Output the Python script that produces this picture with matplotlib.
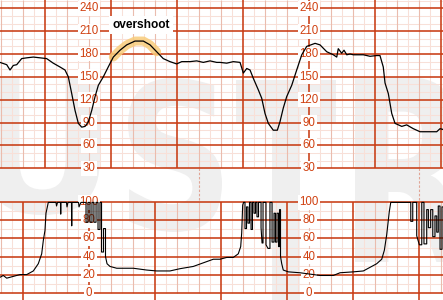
import matplotlib
matplotlib.use("Agg")
import matplotlib.pyplot as plt
import numpy as np
from matplotlib.textpath import TextPath
from matplotlib.patches import PathPatch
from matplotlib.font_manager import FontProperties
from matplotlib.transforms import Affine2D, IdentityTransform

# ---------------- data (time in seconds) ----------------
fhr_t = [-40.9, -34.8, -31.8, -28.8, -25.7, -21.2, -16.6, -10.6, -4.5, 1.5, 7.5, 13.6, 18.2,
         21.2, 24.3, 27.3, 30.3, 33.4, 36.4, 39.4, 42.5, 45.5, 48.5, 53.0, 57.5, 62.1, 68.2,
         74.3, 81.8, 89.4, 95.5, 101.5, 107.5, 113.6, 119.7, 124.3, 131.8, 137.9, 143.9, 150.0,
         156.1, 159.1, 165.2, 171.2, 177.3, 180.3, 183.4, 186.4, 189.4, 193.9, 197.0, 200.0,
         203.0, 207.5, 211.2, 213.6, 216.6, 219.7, 224.3, 228.8, 233.4, 237.9, 245.5, 250.0,
         256.1, 262.1, 265.2, 266.6, 269.7, 271.8, 274.3, 277.3, 280.3, 289.4, 295.5, 301.5,
         304.5, 307.5, 309.1, 312.1, 315.2, 318.2, 324.3, 328.8, 334.8, 340.9, 350.0, 356.1,
         359.1, 361.8]
fhr_bpm = [169, 166, 159, 165, 166, 174, 175, 176, 175, 174, 168, 163, 159,
           150, 128, 106, 89, 84, 85, 91, 106, 124, 139, 150, 163, 176, 185,
           192, 197, 197, 192, 183, 174, 170, 167, 170, 170, 171, 169, 171,
           169, 169, 168, 170, 169, 155, 161, 159, 148, 133, 122, 102,
           89, 80, 80, 91, 109, 124, 139, 159, 179, 190, 194, 192,
           183, 179, 176, 187, 181, 185, 179, 180, 179, 179, 177, 178,
           178, 163, 142, 128, 102, 89, 85, 87, 82, 78, 78, 78,
           82, 81]

ua_t = [-40.9, -37.9, -34.8, -28.8, -22.7, -16.6, -10.6, -6.1, -3.0, -1.5, 0.0, 0.9, 3.0,
        10.0, 10.5, 11.4, 14.1, 14.3, 14.5, 19.5, 20.0, 20.9, 24.1, 24.3, 24.5, 30.5, 30.9, 32.7,
        37.3, 37.3, 39.1, 39.1, 40.9, 40.9, 42.7, 42.7, 44.5, 44.5, 46.4, 46.4, 48.2, 48.2,
        50.0, 50.0, 51.4, 51.4, 53.2, 53.2, 55.0, 55.0, 56.4,
        59.1, 65.2, 74.3, 80.3, 92.5, 101.5, 113.6, 122.7, 134.8, 143.9, 153.0, 159.1, 165.2,
        171.2, 175.7, 177.9, 178.8, 179.7,
        180.5, 181.8, 181.8, 183.2, 183.2, 184.5, 184.5, 185.9, 185.9, 187.3, 187.3, 188.6,
        188.6, 190.0, 190.0, 191.4, 191.4, 192.7, 192.7, 194.1, 194.1, 196.4, 196.4, 197.3,
        198.2, 198.2, 200.9, 200.9, 202.7, 204.5, 204.5, 206.4, 206.4, 208.2, 208.2, 209.5,
        209.5, 210.9, 210.9, 212.3, 212.3, 213.2, 213.2, 214.1, 214.1, 215.2, 216.6, 221.2,
        231.8, 237.9, 250.0, 262.1, 268.2, 280.3, 289.4, 295.5, 301.5, 306.1, 308.5, 310.6,
        313.0, 314.3, 331.8,
        332.5, 332.5, 334.3, 334.3, 337.9, 337.9, 340.3, 342.5, 342.5, 344.5, 344.5, 347.0,
        347.0, 348.5, 348.5, 350.6, 350.6, 352.5, 352.5, 354.5, 354.5, 356.1, 356.1, 357.5,
        357.5, 359.1, 359.1, 360.9, 360.9, 362.0]
ua_val = [17, 19, 16, 18, 20, 20, 24, 32, 43, 58, 69, 88, 100,
          100, 96, 100, 100, 87, 100, 100, 95, 100, 100, 74, 100, 100, 95, 100,
          100, 78, 78, 100, 100, 78, 78, 100, 100, 78, 78, 100, 100, 70,
          70, 100, 100, 45, 45, 71, 71, 40, 32,
          29, 27, 27, 27, 25, 24, 24, 26.5, 29, 33, 37, 37, 39,
          39, 43, 51, 66, 97,
          100, 100, 71, 71, 95, 95, 77, 77, 100, 100, 70, 70,
          100, 100, 88, 88, 100, 100, 84, 84, 100, 100, 72, 55,
          55, 100, 100, 53, 49, 49, 100, 100, 56, 56, 88, 88,
          56, 56, 88, 88, 51, 51, 92, 92, 40, 32, 25, 23,
          22, 21, 19, 19, 22, 23, 24, 28, 32, 37, 47, 64,
          90, 100, 100,
          100, 79, 79, 100, 100, 63, 53, 53, 100, 100, 54, 54,
          92, 92, 72, 72, 92, 92, 62, 62, 85, 85, 67, 67,
          96, 96, 48, 48, 95, 95]

fhr_labels = [30, 60, 90, 120, 150, 180, 210, 240]
ua_labels = [0, 20, 40, 60, 80, 100]
label_times = [40, 240]
marker_times = [140, 340]
highlight_range = (61, 107)
annotation_text = "overshoot"

# ---------------- style ----------------
MAJOR = "#c83c14"
MEDIUM = "#eabcae"
LIGHT = "#f8e0d8"
LABEL = "#d04010"
XLIM = (-40.9, 361.8)

fig = plt.figure(figsize=(4.43, 3.0), dpi=100)
fig.patch.set_facecolor("white")

# watermark letters (very faint, behind grid)
wm_font = FontProperties(family="DejaVu Sans", weight="bold")
wm_boxes = {"U": (-15, 78, 100, 215), "S": (128, 78, 222, 232),
            "T": (236, 80, 336, 300), "R": (355, 77, 472, 262)}
for ch, (x0, y0, x1, y1) in wm_boxes.items():
    tp = TextPath((0, 0), ch, size=100, prop=wm_font)
    bb = tp.get_extents()
    tr = (Affine2D().translate(-bb.x0, -bb.y0)
          .scale((x1 - x0) / bb.width, (y1 - y0) / bb.height)
          .translate(x0, 300 - y1))
    patch = PathPatch(tr.transform_path(tp), transform=IdentityTransform(),
                      facecolor="#efefef", edgecolor="none", zorder=-5)
    fig.patches.append(patch)

ax_top = fig.add_axes([0, (300 - 168.3) / 300, 1, 168.3 / 300])
ax_bot = fig.add_axes([0, 0, 1, (300 - 202.4) / 300])
for ax in (ax_top, ax_bot):
    ax.set_facecolor("none")
    ax.set_xlim(*XLIM)
    ax.set_axis_off()
ax_top.set_ylim(30, 250.9)
ax_bot.set_ylim(-8.2, 100)

# ---- top grid ----
vt = np.arange(-40, 370, 10)
ax_top.vlines([v for v in vt if v % 20 != 0], 30, 251, color=LIGHT, lw=0.75, zorder=1)
ax_top.hlines([h for h in range(40, 251, 10) if h % 30 != 0], *XLIM, color=LIGHT, lw=0.75, zorder=1)
ax_top.vlines([v for v in vt if v % 20 == 0 and v % 60 != 0], 30, 251, color=MEDIUM, lw=0.8, zorder=2)
ax_top.vlines([v for v in vt if v % 60 == 0], 30, 251, color=MAJOR, lw=1.15, zorder=3)
ax_top.hlines(fhr_labels, *XLIM, color=MAJOR, lw=1.15, zorder=3, clip_on=False)

# ---- bottom grid ----
ax_bot.vlines([v for v in vt if v % 20 != 0], 0, 100, color=LIGHT, lw=0.75, zorder=1)
ax_bot.hlines([h for h in range(10, 100, 20)], *XLIM, color=LIGHT, lw=0.75, zorder=1)
ax_bot.vlines([v for v in vt if v % 20 == 0 and (v - 40) % 60 != 0], 0, 100, color=MEDIUM, lw=0.8, zorder=2)
ax_bot.vlines([v for v in vt if (v - 40) % 60 == 0], -8.2, 100, color=MAJOR, lw=1.15, zorder=3)
ax_bot.hlines(ua_labels, *XLIM, color=MAJOR, lw=1.15, zorder=3, clip_on=False)

# dashed markers in the gap
for mt in marker_times:
    ax_top.plot([mt, mt], [30, -14.8], color="#e0a595", lw=0.8, ls=(0, (2.2, 1.6)),
                clip_on=False, zorder=2)

# ---- labels ----
lab_font = dict(family="Liberation Sans", size=8.3, color=LABEL, ha="center", va="center",
                bbox=dict(boxstyle="square,pad=0.12", fc="white", ec="none"), zorder=6)
for lt in label_times:
    for v in fhr_labels:
        ax_top.text(lt, v, str(v), clip_on=False, **lab_font)
    for v in ua_labels:
        ax_bot.text(lt, v, str(v), clip_on=False, **lab_font)

# ---- traces ----
fhr_t_a = np.array(fhr_t)
fhr_b_a = np.array(fhr_bpm)
m = (fhr_t_a >= highlight_range[0]) & (fhr_t_a <= highlight_range[1])
ax_top.plot(fhr_t_a[m], fhr_b_a[m], color="#f8cc7a", lw=6.5, alpha=0.85,
            solid_capstyle="round", solid_joinstyle="round", zorder=7)
ax_top.plot(fhr_t, fhr_bpm, color="black", lw=0.9, zorder=8)
ax_bot.plot(ua_t, ua_val, color="black", lw=0.8, zorder=8, clip_on=False)

ax_top.text(87.3, 218.5, annotation_text, family="Liberation Sans", weight="bold", size=8.6,
            color="black", ha="center", va="center", zorder=9,
            bbox=dict(boxstyle="square,pad=0.25", fc="white", ec="none"))

fig.savefig("out.png", dpi=100)
